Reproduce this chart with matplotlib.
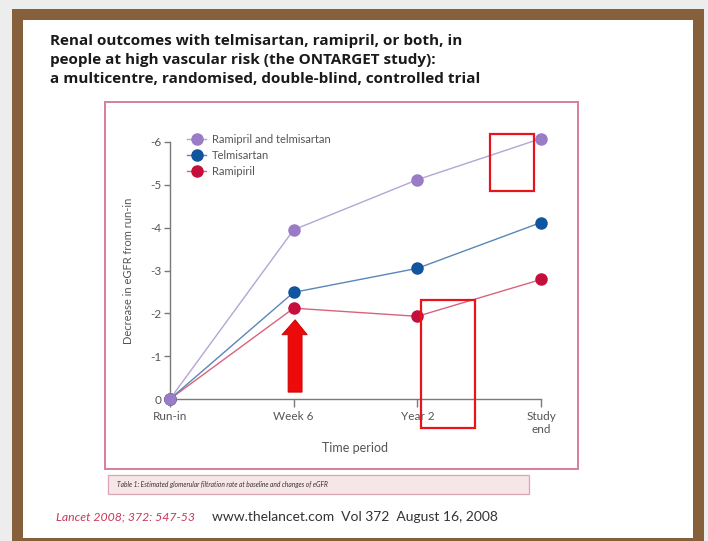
import matplotlib
matplotlib.use("Agg")
import matplotlib.pyplot as plt
from matplotlib.patches import Rectangle, Polygon

# ---- data -------------------------------------------------------------
periods = ["Run-in", "Week 6", "Year 2", "Study\nend"]
combo = [0.0, -3.95, -5.12, -6.08]        # Ramipril and telmisartan
telmisartan = [0.0, -2.49, -3.05, -4.12]
ramipril = [0.0, -2.12, -1.93, -2.79]
yticks = [0, -1, -2, -3, -4, -5, -6]
series_labels = ["Ramipril and telmisartan", "Telmisartan", "Ramipiril"]

W, H = 708, 541
fig = plt.figure(figsize=(W / 100, H / 100), dpi=100)
fig.patch.set_facecolor("#ededed")

# page-level layer in pixel units (origin top-left)
bg = fig.add_axes([0, 0, 1, 1])
bg.set_xlim(0, W)
bg.set_ylim(H, 0)
bg.axis("off")

brown = "#86603a"
bg.add_patch(Rectangle((12, 9), 692, 540, facecolor=brown, edgecolor="none"))
bg.add_patch(Rectangle((23, 20), 670, 518, facecolor="white", edgecolor="none"))

title_font = ["Open Sans", "DejaVu Sans"]
title = ["Renal outcomes with telmisartan, ramipril, or both, in",
         "people at high vascular risk (the ONTARGET study):",
         "a multicentre, randomised, double-blind, controlled trial"]
for i, line in enumerate(title):
    bg.text(50, 45 + i * 19, line, fontsize=11, fontweight="bold",
            family=title_font, color="#1a1a1a", va="baseline", ha="left")

# figure frame and caption strip
bg.add_patch(Rectangle((105, 102), 473, 367, facecolor="white",
                       edgecolor="#d77d9a", linewidth=1.4))
bg.add_patch(Rectangle((108, 475), 421, 19, facecolor="#f7e6e8",
                       edgecolor="#d8a6b4", linewidth=0.9))
lato = ["Lato", "DejaVu Sans"]
bg.text(117, 485, "Table 1: Estimated glomerular filtration rate at baseline and changes of eGFR",
        fontsize=4.8, style="italic", family=lato, color="#333333", va="center")

bg.text(56, 517, "Lancet 2008; 372: 547-53", fontsize=8.8, style="italic",
        family=lato, color="#c8385a", va="center")
bg.text(212, 517, "www.thelancet.com  Vol 372  August 16, 2008", fontsize=10,
        family=lato, color="#333333", va="center")

# ---- chart ------------------------------------------------------------
x0, x1, ytop, ybot = 170, 541, 142, 399
ax = fig.add_axes([x0 / W, 1 - ybot / H, (x1 - x0) / W, (ybot - ytop) / H])
ax.patch.set_alpha(0)
xs = list(range(len(periods)))
ax.set_xlim(0, len(periods) - 1)
ax.set_ylim(0, -6)

styles = [
    (combo, "#b4a5d4", "#9a7cc6"),
    (telmisartan, "#5a86b8", "#11559f"),
    (ramipril, "#d9637c", "#c40f3c"),
]
handles = []
for (vals, lc, mc), lab in zip(styles, series_labels):
    h, = ax.plot(xs, vals, color=lc, linewidth=1.0, marker="o", markersize=8,
                 markerfacecolor=mc, markeredgecolor=mc, clip_on=False,
                 label=lab)
    handles.append(h)
# draw the combined series above the others
handles[0].set_zorder(5)
handles[1].set_zorder(4)
handles[2].set_zorder(3)

for s in ["top", "right"]:
    ax.spines[s].set_visible(False)
for s in ["left", "bottom"]:
    ax.spines[s].set_color("#7a7a7a")
    ax.spines[s].set_linewidth(1.0)

ax.set_yticks(yticks)
ax.set_yticklabels([str(t) if t == 0 else f"-{abs(t)}" for t in yticks])
ax.set_xticks(xs)
ax.set_xticklabels(periods, linespacing=1.2)
ax.tick_params(axis="y", direction="out", length=4, width=1.0, color="#7a7a7a",
               labelsize=8.5, labelcolor="#555555", pad=2)
ax.tick_params(axis="x", direction="out", length=6, width=1.0, color="#7a7a7a",
               labelsize=8.5, labelcolor="#555555", pad=3)
for lab in ax.get_xticklabels() + ax.get_yticklabels():
    lab.set_family(lato)
ax.set_xlabel("Time period", fontsize=9, color="#555555", family=lato, labelpad=5)
ax.set_ylabel("Decrease in eGFR from run-in", fontsize=8, color="#555555",
              family=lato, labelpad=12)

leg = ax.legend(handles=handles, loc="upper left", bbox_to_anchor=(0.035, 1.05),
                frameon=False, handlelength=1.7, handletextpad=0.5,
                labelspacing=0.45, borderaxespad=0, prop={"family": lato, "size": 8})
for t in leg.get_texts():
    t.set_color("#555555")

# ---- red highlight marks ---------------------------------------------
red = "#e8141c"
ax.add_patch(Rectangle((2.59, -6.19), 0.35, 1.33, fill=False, edgecolor=red,
                       linewidth=1.6, clip_on=False, zorder=6))
ax.add_patch(Rectangle((2.03, -2.31), 0.44, 2.99, fill=False, edgecolor=red,
                       linewidth=1.6, clip_on=False, zorder=6))
ax.add_patch(Polygon([(0.955, -0.16), (1.068, -0.16), (1.068, -1.5), (1.11, -1.5),
                      (1.012, -1.85), (0.905, -1.5), (0.955, -1.5)], closed=True,
                     facecolor="#ee0a0a", edgecolor="#c00000", linewidth=0.6,
                     clip_on=False, zorder=6))

fig.savefig("out.png", dpi=100)
